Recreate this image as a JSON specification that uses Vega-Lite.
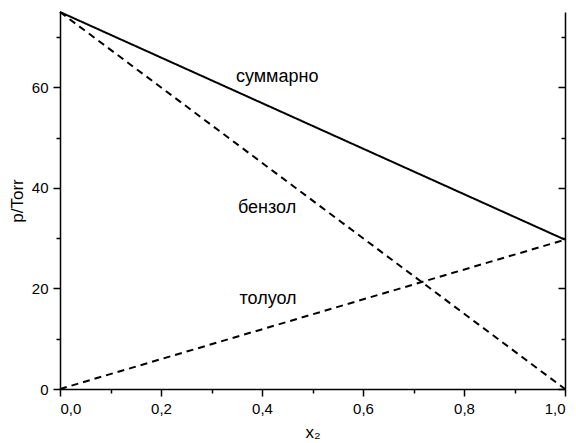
{
  "$schema": "https://vega.github.io/schema/vega-lite/v6.json",
  "width": 505,
  "height": 377,
  "autosize": {"type": "none"},
  "padding": {"left": 60, "top": 12, "right": 11, "bottom": 54},
  "background": "white",
  "config": {
    "view": {"stroke": null},
    "font": "Liberation Sans",
    "axis": {"domainColor": "black", "tickColor": "black", "labelColor": "black", "titleColor": "black", "domainWidth": 1.5, "tickWidth": 1.5, "grid": false, "labelFont": "Liberation Sans", "titleFont": "Liberation Sans", "labelFontSize": 15, "titleFontSize": 17, "titleFontWeight": "normal"}
  },
  "datasets": {
    "lines": [
      {"x": 0, "p": 75, "series": "total"},
      {"x": 1, "p": 29.7, "series": "total"},
      {"x": 0, "p": 75, "series": "benzene"},
      {"x": 1, "p": 0, "series": "benzene"},
      {"x": 0, "p": 0, "series": "toluene"},
      {"x": 1, "p": 29.7, "series": "toluene"}
    ],
    "labels": [
      {"x": 0.43, "p": 62, "text": "суммарно"},
      {"x": 0.41, "p": 36, "text": "бензол"},
      {"x": 0.412, "p": 18, "text": "толуол"}
    ]
  },
  "resolve": {"axis": {"x": "independent", "y": "independent"}},
  "layer": [
    {
      "data": {"name": "lines"},
      "mark": {"type": "line", "color": "black", "strokeWidth": 2},
      "encoding": {
        "x": {"field": "x", "type": "quantitative", "scale": {"domain": [0, 1], "nice": false, "zero": false},
              "axis": {"orient": "bottom", "values": [0, 0.2, 0.4, 0.6, 0.8, 1], "labelExpr": "replace(format(datum.value, '.1f'), '.', ',')", "tickSize": 7, "labelPadding": 5, "title": "x₂", "titlePadding": 8}},
        "y": {"field": "p", "type": "quantitative", "scale": {"domain": [0, 75], "nice": false},
              "axis": {"orient": "left", "values": [0, 20, 40, 60], "tickSize": 7, "labelPadding": 5, "title": "p/Torr", "titlePadding": 5}},
        "detail": {"field": "series"},
        "strokeDash": {"field": "series", "type": "nominal", "scale": {"domain": ["total", "benzene", "toluene"], "range": [[1, 0], [7, 5], [7, 5]]}, "legend": null}
      }
    },
    {
      "data": {"name": "lines"},
      "mark": {"type": "line", "opacity": 0},
      "encoding": {
        "x": {"field": "x", "type": "quantitative", "axis": {"orient": "bottom", "values": [0.1, 0.3, 0.5, 0.7, 0.9], "labels": false, "domain": false, "tickSize": 4, "title": null}},
        "y": {"field": "p", "type": "quantitative", "axis": {"orient": "left", "values": [10, 30, 50, 70], "labels": false, "domain": false, "tickSize": 4, "title": null}},
        "detail": {"field": "series"}
      }
    },
    {
      "data": {"name": "lines"},
      "mark": {"type": "line", "opacity": 0},
      "encoding": {
        "x": {"field": "x", "type": "quantitative", "axis": null},
        "y": {"field": "p", "type": "quantitative", "axis": {"orient": "right", "values": [0, 20, 40, 60], "labels": false, "tickSize": -7, "title": null}},
        "detail": {"field": "series"}
      }
    },
    {
      "data": {"name": "lines"},
      "mark": {"type": "line", "opacity": 0},
      "encoding": {
        "x": {"field": "x", "type": "quantitative", "axis": null},
        "y": {"field": "p", "type": "quantitative", "axis": {"orient": "right", "values": [10, 30, 50, 70], "labels": false, "domain": false, "tickSize": -4, "title": null}},
        "detail": {"field": "series"}
      }
    },
    {
      "data": {"name": "labels"},
      "mark": {"type": "text", "fontSize": 18, "font": "Liberation Sans", "color": "black", "align": "center", "baseline": "middle"},
      "encoding": {
        "x": {"field": "x", "type": "quantitative", "axis": null},
        "y": {"field": "p", "type": "quantitative", "axis": null},
        "text": {"field": "text"}
      }
    }
  ]
}
